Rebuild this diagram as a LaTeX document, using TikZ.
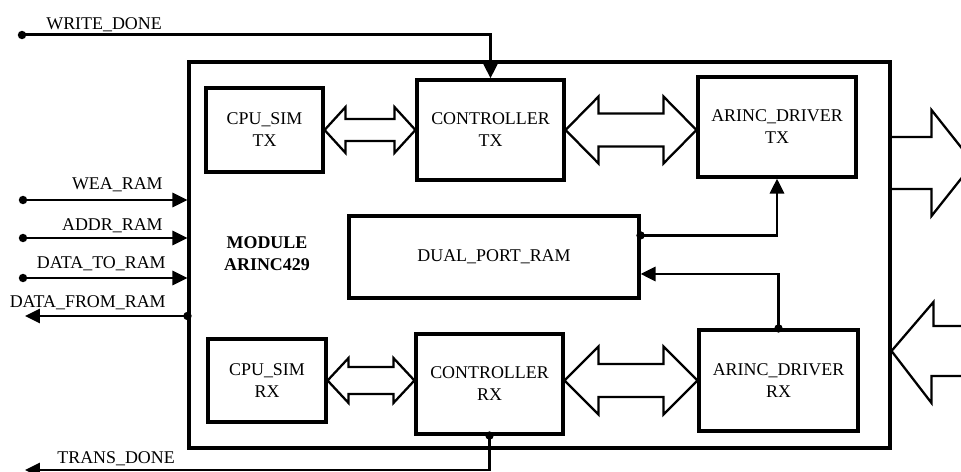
\documentclass[tikz,border=0pt]{standalone}
\usepackage{fontspec}
\setmainfont{Liberation Serif}
\usetikzlibrary{arrows.meta,calc}

\begin{document}
\begin{tikzpicture}[x=0.02cm, y=-0.02cm,
    font=\fontsize{10.2}{12.5}\selectfont,
    blk/.style n args={2}{draw, line width=1.8pt, inner sep=0pt, align=center,
        minimum width=#1, minimum height=#2},
    sig/.style={line width=1.7pt},
    arr/.style={sig, -{Triangle[length=0.3cm,width=0.28cm]}},
    bus/.style={line width=1.3pt, line join=miter},
    lbl/.style={inner sep=0pt}]
    \useasboundingbox (0,0) rectangle (961,472);
    \clip (0,0) rectangle (961,472);

    % Blocks
    \node[blk={14.02cm}{7.72cm}] (module) at (539.5,255) {};
    \node[blk={2.34cm}{1.68cm}] (cpuTX) at (264.5,130) {CPU\_SIM\\TX};
    \node[blk={2.94cm}{2cm}] (ctrlTX) at (490.5,130) {CONTROLLER\\TX};
    \node[blk={3.16cm}{2cm}] (arincTX) at (777,127) {ARINC\_DRIVER\\TX};
    \node[blk={5.8cm}{1.64cm}] (dpram) at (494,257) {DUAL\_PORT\_RAM};
    \node[blk={2.36cm}{1.66cm}] (cpuRX) at (267,380.5) {CPU\_SIM\\RX};
    \node[blk={2.94cm}{2cm}] (ctrlRX) at (489.5,384) {CONTROLLER\\RX};
    \node[blk={3.18cm}{2.02cm}] (arincRX) at (778.5,380.5) {ARINC\_DRIVER\\RX};
    \node[align=center, font=\fontsize{10.2}{12.5}\selectfont\bfseries] (modL) at (267,254) {MODULE\\ARINC429};

    % Buses between blocks
    \coordinate (arTXin) at (arincTX.west |- ctrlTX.east);
    \coordinate (ctRXin) at (ctrlRX.west |- cpuRX.east);
    \coordinate (ctRXout) at (ctrlRX.east |- arincRX.west);
    \foreach \p/\q/\hl/\hw/\sw in {cpuTX.east/ctrlTX.west/21/23/11, ctrlTX.east/arTXin/33/33.5/16.5,
        cpuRX.east/ctRXin/21/22.5/13.5, ctRXout/arincRX.west/34/34/16.5}
        \draw[bus] (\p) -- ++(\hl,-\hw) -- ++(0,\hw-\sw) -- ($(\q)+(-\hl,-\sw)$) -- ++(0,\sw-\hw)
            -- (\q) -- ++(-\hl,\hw) -- ++(0,\sw-\hw) -- ($(\p)+(\hl,\sw)$) -- ++(0,\hw-\sw) -- cycle;

    % ARINC bus out / in
    \coordinate (outTX) at (module.east |- 0,163);
    \coordinate (inRX) at (module.east |- 0,351);
    \draw[bus] ($(outTX)+(0,-26)$) -- ++(40,0) -- ++(0,-27) -- ++(42,53) -- ++(-42,53) -- ++(0,-27) -- ++(-40,0);
    \draw[bus] ($(inRX)+(92,-25)$) -- ++(-50,0) -- ++(0,-24) -- (inRX) -- ++(40,52) -- ++(0,-27) -- ++(52,0);

    % Signals
    \coordinate (wdS) at (22,35); \coordinate (weaS) at (23,200);
    \coordinate (addrS) at (23,238); \coordinate (dtrS) at (23,278);
    \coordinate (dfrE) at (25,316); \coordinate (tdE) at (25,470);
    \coordinate (dfrS) at (module.west |- dfrE);
    \coordinate (dpOut) at ($(dpram.north east)+(0,21)$);
    \coordinate (dpIn) at (dpram.east |- 0,274);
    \draw[arr] (wdS) -| (ctrlTX.north);
    \draw[arr] (weaS) -- (weaS -| module.west);
    \draw[arr] (addrS) -- (addrS -| module.west);
    \draw[arr] (dtrS) -- (dtrS -| module.west);
    \draw[arr] (dfrS) -- (dfrE);
    \draw[arr] (ctrlRX.south) |- (tdE);
    \draw[arr] (dpOut) -| (arincTX.south);
    \draw[arr] (arincRX.north) |- (dpIn);
    \foreach \p in {wdS,weaS,addrS,dtrS,dfrS,dpOut,ctrlRX.south,arincRX.north} \fill (\p) circle (2.4pt);

    % Signal names
    \node[lbl, anchor=base west] (wdL) at (46,30) {WRITE\_DONE};
    \node[lbl, anchor=base east] (weaL) at (163,190) {WEA\_RAM};
    \node[lbl, anchor=base east] (addrL) at (163,231) {ADDR\_RAM};
    \node[lbl, anchor=base east] (dtrL) at (166,269) {DATA\_TO\_RAM};
    \node[lbl, anchor=base east] (dfrL) at (166,308) {DATA\_FROM\_RAM};
    \node[lbl, anchor=base west] (tdL) at (57,464) {TRANS\_DONE};
\end{tikzpicture}
\end{document}
